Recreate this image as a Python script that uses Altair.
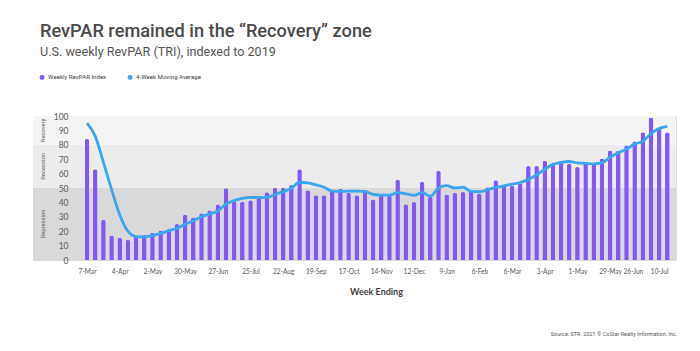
import altair as alt
import pandas as pd

# ---------------- data ----------------
first_week_ending = "2020-03-07"

revpar_index = [
    84, 63, 28, 17, 15.5, 14, 17, 17.5, 19, 20.5,
    21.5, 25, 31.5, 29.5, 32.5, 34.5, 38.5, 49.8, 41, 40.5,
    41.5, 44.6, 47, 50.2, 50.2, 52, 63, 48.5, 45, 45,
    49, 49.4, 46.6, 45, 48, 42, 45, 45, 55.8, 38.8,
    40.2, 54.2, 44, 62, 45.5, 46.6, 47.2, 48.6, 46.1, 50.5,
    55.4, 51.5, 51.8, 53.3, 65.2, 65.2, 69, 66.8, 69, 66.8,
    64.5, 67.4, 67.7, 70.4, 76, 76, 79.5, 82.5, 88.8, 99,
    92, 88.8,
]

moving_avg = [
    95, 86, 68, 49, 31.5, 20, 16.3, 16, 17, 18.5,
    20.3, 22, 24.8, 27.2, 30, 32, 34, 38.8, 41.3, 42.8,
    43.5, 43.3, 43.5, 45.5, 47.5, 49.8, 54, 53.6, 52.2, 50.5,
    47.8, 47.6, 47.8, 47.8, 47.6, 45.6, 45, 45, 46.8, 46,
    44.9, 46.9, 44.3, 50, 51.6, 50, 50.6, 47.6, 47.4, 48.7,
    50.5, 51.4, 52.7, 53.8, 56, 59, 63, 66.4, 67.8, 68.4,
    67.4, 67.1, 66.8, 67.4, 71.5, 74.5, 77, 80.5, 82.4, 87.8,
    91.3, 92.8,
]

tick_labels = ["7-Mar", "4-Apr", "2-May", "30-May", "27-Jun", "25-Jul", "22-Aug",
               "19-Sep", "17-Oct", "14-Nov", "12-Dec", "9-Jan", "6-Feb", "6-Mar",
               "3-Apr", "1-May", "29-May", "26-Jun", "10-Jul"]

zone_names = ["Depression", "Recession", "Recovery"]
zone_low = [0, 50, 80]
zone_high = [50, 80, 100]

series_names = ["Weekly RevPAR Index", "4-Week Moving Average"]

title_text = "RevPAR remained in the \u201cRecovery\u201d zone"
subtitle_text = "U.S. weekly RevPAR (TRI), indexed to 2019"
x_title = "Week Ending"
source_text = "Source: STR. 2021 \u00a9 CoStar Realty Information, Inc."

# ---------------- styles ----------------
ZONE_COLORS = ["#d9d9d9", "#ececec", "#f4f4f4"]
BAR_COLOR = "#8257f6"
LINE_COLOR = "#3ba5f0"
TFONT = "Roboto"
AXISFONT = "Lato"
W, H = 643, 144

# ---------------- tables ----------------
dates = pd.date_range(first_week_ending, periods=len(revpar_index), freq="7D")
week_labels = [f"{d.day}-{d.strftime('%b')}" for d in dates]
df = pd.DataFrame({
    "week": list(range(len(dates))),
    "label": week_labels,
    "index": revpar_index,
    "ma": moving_avg,
    "series": series_names[0],
})
tick_weeks = [week_labels.index(t) for t in tick_labels]
label_expr = "[" + ",".join(f"'{l}'" for l in week_labels) + "][datum.value]"

zones = pd.DataFrame({"zone": zone_names, "low": zone_low, "high": zone_high})
zones["mid"] = (zones["low"] + zones["high"]) / 2

xscale = alt.Scale(domain=[-6, 71.45], nice=False, zero=False)
yscale = alt.Scale(domain=[0, 100], nice=False)

x_axis = alt.Axis(values=tick_weeks, labelExpr=label_expr, title=x_title,
                  domain=False, ticks=False, tickSize=0, grid=False,
                  labelOverlap=False, labelBound=False,
                  labelAlign={"condition": {"test": f"datum.value == {tick_weeks[-2]}",
                                            "value": "right"},
                              "value": "center"},
                  labelFont=AXISFONT, labelFontSize=6.6, labelColor="#595959",
                  labelPadding=8, titleFont=AXISFONT, titleFontSize=9,
                  titleFontWeight="bold", titleColor="#404040",
                  titleX=343, titleY=27, titleBaseline="top", zindex=1)
y_axis = alt.Axis(values=list(range(0, 101, 10)), title=None, domain=False,
                  ticks=False, tickSize=0, grid=False, offset=-35, labelPadding=0,
                  labelOverlap=False, labelBound=False,
                  labelFont=AXISFONT, labelFontSize=8.5, labelColor="#595959",
                  zindex=1)

bands = alt.Chart(zones).mark_rect().encode(
    y=alt.Y("low:Q", scale=yscale, axis=y_axis),
    y2="high:Q",
    x=alt.value(0),
    x2=alt.value(W),
    fill=alt.Fill("zone:N", scale=alt.Scale(domain=zone_names, range=ZONE_COLORS), legend=None),
)

zone_text = alt.Chart(zones).mark_text(angle=270, font=TFONT, fontSize=5.8,
                                       color="#595959").encode(
    x=alt.value(10),
    y=alt.Y("mid:Q", scale=yscale, axis=y_axis),
    text="zone:N",
)

bars = alt.Chart(df).mark_bar(size=4.6, cornerRadiusTopLeft=2.2,
                              cornerRadiusTopRight=2.2).encode(
    x=alt.X("week:Q", scale=xscale, axis=x_axis),
    y=alt.Y("index:Q", scale=yscale, axis=y_axis),
    color=alt.Color("series:N",
                    scale=alt.Scale(domain=series_names, range=[BAR_COLOR, LINE_COLOR]),
                    legend=alt.Legend(orient="none", legendX=6, legendY=-42,
                                      direction="horizontal", title=None,
                                      symbolType="circle", symbolSize=24,
                                      symbolStrokeWidth=0, labelFont=TFONT,
                                      labelFontSize=6.1, labelColor="#404040",
                                      columnPadding=20, labelOffset=3)),
)

line = alt.Chart(df).mark_line(color=LINE_COLOR, strokeWidth=2.8,
                               interpolate="monotone").encode(
    x=alt.X("week:Q", scale=xscale, axis=x_axis),
    y=alt.Y("ma:Q", scale=yscale, axis=y_axis),
)

source = alt.Chart(pd.DataFrame({"t": [source_text]})).mark_text(
    align="right", baseline="middle", font=TFONT, fontSize=5.5, color="#595959"
).encode(x=alt.value(W + 1), y=alt.value(218), text="t:N")

chart = alt.layer(bands, zone_text, bars, line, source).properties(
    width=W, height=H,
    padding={"left": 33, "top": 116, "right": 24, "bottom": 91},
    autosize=alt.AutoSizeParams(type="none"),
    title=alt.Title(text=title_text, subtitle=subtitle_text, anchor="start",
                    frame="group", dx=7, offset=14, font=TFONT, fontSize=18.2,
                    fontWeight=500, color="#4a4a4a", subtitleFont=TFONT,
                    subtitleFontSize=12.6, subtitleFontWeight="normal",
                    subtitleColor="#555555", subtitlePadding=5),
).configure_view(stroke=None).configure_axis(
    labelOverlap=False
).configure(background="white")

chart.save("out.html", embed_options={"renderer": "svg", "actions": False})
